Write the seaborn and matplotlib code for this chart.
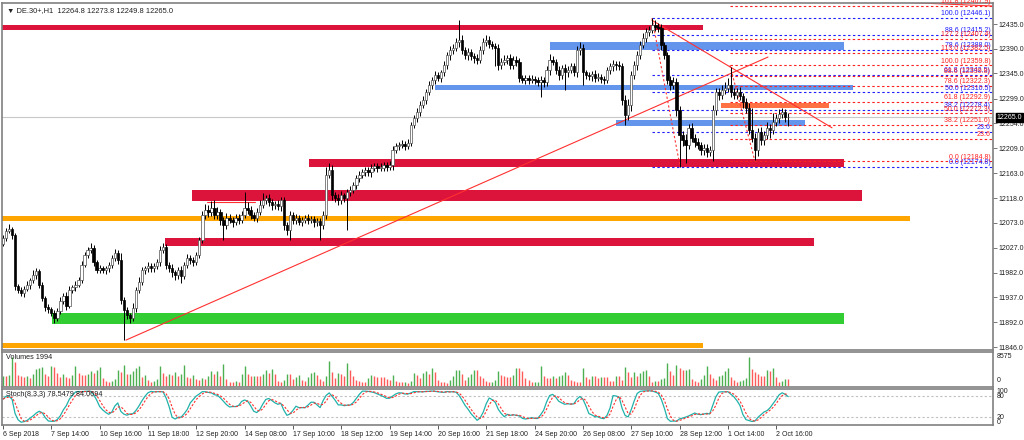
import numpy as np
import pandas as pd
import matplotlib
matplotlib.use("Agg")
import matplotlib.pyplot as plt
import matplotlib.transforms as mtrans
import seaborn as sns

sns.set_theme(style="white")
plt.rcParams["font.family"] = ["Liberation Sans", "DejaVu Sans"]

# ---------------- data ----------------
symbol = "DE.30+,H1"
last_ohlc = [12264.8, 12273.8, 12249.8, 12265.0]
first_open = 12035.0

closes = [
    12045, 12058, 12062, 12050, 11958,
    11950, 11945, 11953, 11959, 11969,
    11978, 11985, 11960, 11935, 11920,
    11915, 11908, 11900, 11912, 11930,
    11940, 11922, 11950, 11955, 11960,
    11969, 11996, 12014, 12023, 12027,
    12001, 11987, 11990, 11987, 11990,
    11996, 12009, 12018, 12005, 11932,
    11914, 11905, 11900, 11918, 11950,
    11965, 11987, 11990, 11994, 11990,
    11994, 12001, 12023, 12029, 11996,
    11990, 11983, 11978, 11987, 11976,
    11996, 12009, 12005, 12001, 12014,
    12041, 12087, 12096, 12092, 12100,
    12087, 12092, 12078, 12069, 12082,
    12078, 12074, 12082, 12078, 12087,
    12100, 12096, 12087, 12082, 12092,
    12105, 12114, 12118, 12110, 12105,
    12107, 12103, 12114, 12069, 12060,
    12087, 12078, 12082, 12074, 12078,
    12082, 12078, 12080, 12074, 12076,
    12069, 12087, 12160, 12169, 12123,
    12118, 12114, 12123, 12118, 12129,
    12133, 12142, 12155, 12160, 12165,
    12169, 12165, 12173, 12176, 12173,
    12173, 12178, 12175, 12178, 12206,
    12213, 12215, 12217, 12213, 12219,
    12251, 12264, 12275, 12288, 12297,
    12311, 12324, 12333, 12342, 12337,
    12347, 12360, 12379, 12388, 12392,
    12402, 12406, 12388, 12379, 12384,
    12377, 12373, 12370, 12388, 12402,
    12406, 12399, 12395, 12392, 12360,
    12366, 12370, 12373, 12360, 12370,
    12366, 12337, 12333, 12337, 12333,
    12335, 12333, 12329, 12333, 12329,
    12351, 12370, 12366, 12351, 12342,
    12355, 12347, 12351, 12358, 12347,
    12388, 12392, 12347, 12342, 12340,
    12344, 12337, 12339, 12335, 12333,
    12351, 12358, 12362, 12360, 12358,
    12297, 12269, 12288, 12342, 12360,
    12379, 12397, 12410, 12421, 12424,
    12433, 12430, 12428, 12397, 12379,
    12333, 12324, 12330, 12278, 12233,
    12224, 12215, 12246, 12228, 12220,
    12215, 12206, 12209, 12202, 12206,
    12278, 12311, 12306, 12315, 12319,
    12324, 12311, 12306, 12311, 12304,
    12293, 12282, 12242, 12228, 12206,
    12238, 12224, 12233, 12246, 12242,
    12257, 12264, 12271, 12275, 12264.8,
    12265.0,
]

upper_wick = [
    6, 5, 8, 4, 5, 4, 6, 5, 7, 4,
    8, 6, 4, 5, 4, 5, 4, 6, 5, 7,
    5, 6, 7, 4, 6, 5, 7, 6, 5, 9,
    6, 4, 6, 5, 4, 6, 5, 7, 6, 12,
    5, 6, 4, 8, 6, 9, 6, 5, 7, 5,
    6, 5, 8, 7, 6, 5, 7, 4, 6, 8,
    6, 7, 5, 6, 5, 6, 8, 12, 10, 12,
    15, 10, 6, 5, 8, 6, 5, 7, 6, 8,
    29, 10, 8, 6, 7, 9, 14, 6, 8, 7,
    6, 7, 5, 6, 5, 8, 6, 7, 5, 6,
    5, 7, 6, 5, 6, 5, 8, 14, 13, 9,
    6, 7, 8, 5, 6, 7, 6, 5, 7, 6,
    6, 5, 7, 6, 5, 8, 6, 5, 7, 6,
    6, 5, 7, 5, 6, 5, 6, 8, 6, 7,
    6, 8, 6, 7, 6, 5, 7, 6, 8, 6,
    8, 36, 9, 6, 7, 6, 5, 7, 8, 8,
    10, 7, 6, 5, 6, 7, 8, 6, 7, 6,
    6, 7, 5, 6, 5, 7, 6, 5, 7, 6,
    8, 10, 7, 6, 7, 6, 8, 7, 6, 7,
    8, 10, 6, 5, 6, 5, 7, 6, 5, 6,
    6, 7, 8, 6, 7, 6, 8, 10, 7, 8,
    7, 8, 9, 7, 8, 13, 9, 7, 8, 6,
    6, 7, 8, 6, 7, 8, 10, 7, 9, 6,
    7, 6, 8, 7, 6, 10, 8, 7, 9, 10,
    12, 32, 8, 7, 9, 6, 8, 10, 40, 8,
    7, 9, 8, 10, 7, 16, 8, 9, 7, 6,
    8.8,
]

lower_wick = [
    5, 6, 4, 7, 8, 6, 5, 7, 4, 6,
    5, 7, 6, 5, 8, 6, 5, 10, 6, 5,
    6, 8, 5, 6, 7, 5, 6, 4, 6, 5,
    7, 6, 5, 6, 8, 6, 5, 6, 7, 8,
    55, 8, 10, 6, 7, 6, 5, 8, 6, 7,
    6, 5, 7, 6, 8, 6, 9, 10, 7, 12,
    6, 5, 7, 6, 5, 6, 5, 7, 8, 6,
    7, 8, 10, 28, 7, 6, 8, 6, 7, 6,
    6, 7, 8, 6, 7, 5, 6, 7, 6, 8,
    7, 6, 8, 9, 10, 19, 8, 7, 6, 7,
    6, 7, 6, 8, 7, 28, 8, 7, 6, 8,
    7, 8, 6, 7, 58, 7, 6, 8, 7, 6,
    6, 7, 8, 6, 7, 5, 6, 7, 6, 8,
    6, 7, 5, 8, 6, 7, 6, 8, 7, 6,
    7, 6, 8, 7, 6, 8, 7, 6, 9, 7,
    6, 9, 8, 7, 10, 8, 9, 7, 6, 8,
    7, 8, 6, 33, 8, 7, 6, 8, 7, 6,
    8, 7, 6, 8, 7, 6, 8, 7, 27, 8,
    7, 8, 6, 7, 8, 7, 32, 8, 6, 7,
    8, 9, 23, 7, 6, 8, 7, 6, 8, 7,
    6, 7, 8, 9, 7, 10, 18, 8, 12, 7,
    8, 7, 6, 8, 7, 6, 8, 7, 9, 8,
    8, 9, 7, 10, 58, 12, 33, 8, 7, 9,
    8, 9, 10, 9, 8, 20, 8, 9, 7, 8,
    7, 9, 8, 7, 8, 10, 9, 8, 7, 19,
    12, 10, 9, 8, 14, 7, 8, 9, 7, 8,
    15,
]

volumes = [
    3000, 3000, 3100, 8500, 7000, 3200, 2800, 2500, 3000, 2300,
    3400, 4900, 5200, 5600, 3500, 2800, 5700, 5600, 3900, 2600,
    3500, 2500, 2200, 3300, 5800, 3900, 3300, 3100, 3500, 4300,
    3900, 4600, 5600, 2200, 1500, 1200, 1400, 2100, 4700, 4000,
    6000, 3400, 3600, 4300, 5300, 5800, 2700, 3200, 1600, 1200,
    1500, 2000, 5700, 3900, 2900, 3600, 3300, 4200, 2900, 3400,
    6200, 2700, 2200, 3300, 2000, 1800, 2300, 1900, 3000, 4300,
    3600, 4500, 3000, 6300, 2000, 1300, 1200, 1500, 1300, 3400,
    5800, 3400, 2800, 3000, 3000, 2800, 3400, 4800, 3700, 5000,
    3500, 1500, 1200, 1800, 3500, 3400, 2000, 2600, 3200, 1700,
    1500, 2500, 3900, 4100, 3200, 2000, 1400, 2800, 7300, 4000,
    2200, 3900, 3400, 2800, 6700, 4700, 2800, 1600, 1400, 1300,
    1200, 2200, 3300, 3000, 2600, 2600, 2600, 2000, 1600, 3200,
    1400, 1200, 1100, 1200, 1000, 1500, 3800, 3200, 2400, 3700,
    4300, 3600, 5100, 4000, 1700, 1300, 1200, 1000, 1600, 3000,
    4600, 4700, 3600, 1700, 2700, 3400, 4600, 4600, 2800, 2400,
    1500, 1200, 1300, 1600, 4300, 3200, 3000, 2600, 2500, 3100,
    5300, 5300, 4300, 2200, 1600, 1100, 1200, 1300, 5800, 2800,
    2200, 2200, 3000, 2300, 2800, 3200, 4000, 3200, 1800, 1500,
    1300, 1300, 5300, 2600, 2000, 2800, 2800, 2400, 2700, 2700,
    2700, 1500, 1400, 3000, 3000, 1700, 5500, 4000, 2600, 4000,
    3000, 3800, 4400, 4800, 3000, 1300, 1500, 1400, 2000, 2400,
    6700, 4400, 3200, 6000, 5200, 4600, 4700, 5000, 2000, 1500,
    1300, 2000, 3200, 5800, 3400, 2300, 1700, 3000, 3100, 4300,
    5300, 2600, 1700, 1300, 1400, 1700, 2400, 8575, 5000, 4200,
    3400, 2900, 2900, 4800, 4300, 5100, 2500, 1200, 1500, 2000,
    1994,
]

tick_bars = [0, 16, 32, 48, 64, 80, 96, 112, 128, 144, 160, 176, 192, 208, 224, 240, 256]
tick_labels = ["6 Sep 2018", "7 Sep 14:00", "10 Sep 16:00", "11 Sep 18:00", "12 Sep 20:00",
               "14 Sep 08:00", "17 Sep 10:00", "18 Sep 12:00", "19 Sep 14:00", "20 Sep 16:00",
               "21 Sep 18:00", "24 Sep 20:00", "26 Sep 08:00", "27 Sep 10:00", "28 Sep 12:00",
               "1 Oct 14:00", "2 Oct 16:00"]

price_ticks = [12435, 12390, 12345, 12299, 12254, 12209, 12163, 12118,
               12073, 12027, 11982, 11937, 11892, 11846]

# support / resistance zones (price range, bar range)
zone_lo = [12424, 12388, 12315, 12283, 12250, 12174, 12113, 12077, 12030, 11888, 11845]
zone_hi = [12433, 12402, 12324, 12291, 12260, 12190, 12133, 12085, 12046, 11908, 11854]
zone_start = [-1, 181, 143, 237.7, 202.9, 101.3, 62.5, -1, 53.6, 16.1, -1]
zone_end = [231.8, 278.5, 281.5, 273.5, 265.6, 278.5, 284.4, 300.3, 268.5, 278.5, 231.8]
zone_kind = ["red", "blue", "blue", "coral", "blue", "red", "red", "orange", "red", "green", "orange"]

blue_fib_hi, blue_fib_lo, blue_fib_start = 12446.1, 12174.8, 214.9
blue_fib_levels = [100.0, 88.6, 78.6, 61.8, 50.0, 38.2, 23.6, 0.0]
red_fib_hi, red_fib_lo, red_fib_start = 12359.8, 12184.8, 240.7
red_fib_levels = [161.8, 127.2, 113.0, 100.0, 88.6, 78.6, 61.8, 50.0, 38.2, 23.6, 0.0]

trend_bars = [[40.7, 253.3], [214.9, 274.5], [297.0, 327.8], [67.5, 83.5]]
trend_prices = [[11859, 12375], [12442, 12246], [12475, 12468], [12111, 12111]]
fib_base_bars = [[214.9, 224.2], [240.7, 249.0]]
fib_base_prices = [[12446.1, 12174.8], [12359.8, 12184.8]]

current_price = 12265.0
stoch_title = "Stoch(8,3,3) 78.5479 84.0694"
volume_title = "Volumes 1994"

# ---------------- frame ----------------
n = len(closes)
c = np.array(closes, dtype=float)
o = np.concatenate([[first_open], c[:-1]])
hi = np.maximum(o, c) + np.array(upper_wick, dtype=float)
lo = np.minimum(o, c) - np.array(lower_wick, dtype=float)
df = pd.DataFrame({"bar": np.arange(n), "open": o, "high": hi, "low": lo,
                   "close": c, "volume": volumes})

low8 = df["low"].rolling(8, min_periods=1).min()
high8 = df["high"].rolling(8, min_periods=1).max()
num = (df["close"] - low8).rolling(3, min_periods=1).sum()
den = (high8 - low8).rolling(3, min_periods=1).sum()
df["k"] = 100 * num / den
df["d"] = df["k"].rolling(3, min_periods=1).mean()

FS = 5.0
W, H = 1024, 440
fig = plt.figure(figsize=(W / 100, H / 100), dpi=100)
fig.patch.set_facecolor("white")
L, R = 2 / W, 993 / W
ax = fig.add_axes([L, 1 - 350 / H, R - L, 347 / H])
axv = fig.add_axes([L, 1 - 387 / H, R - L, 35 / H], sharex=ax)
axs = fig.add_axes([L, 1 - 425 / H, R - L, 36 / H], sharex=ax)

XMIN, XMAX = -0.33, 327.8
ax.set_xlim(XMIN, XMAX)
ax.set_ylim(11841, 12473.5)

colors = {"red": "#DC143C", "blue": "#6495ED", "coral": "#FF7043",
          "orange": "#FFA500", "green": "#32CD32"}
for z0, z1, s, e, k in zip(zone_lo, zone_hi, zone_start, zone_end, zone_kind):
    ax.fill_between([s, e], z0, z1, color=colors[k], lw=0, zorder=1)

ax.axhline(current_price, color="#C8C8C8", lw=0.8, zorder=1.5)

# fibonacci grids
for lvl in blue_fib_levels:
    p = blue_fib_lo + lvl / 100 * (blue_fib_hi - blue_fib_lo)
    ax.hlines(p, blue_fib_start, XMAX, colors="#2020FF", linestyles=(0, (2.2, 2.2)), lw=0.8, zorder=2)
    lab = f"{lvl:.1f}" if lvl == 23.6 else f"{lvl:.1f} ({p:.1f})"
    ax.text(326.9, p + 1.5, lab, color="#2020FF", fontsize=FS, ha="right", va="bottom", zorder=6)
for lvl in red_fib_levels:
    p = red_fib_lo + lvl / 100 * (red_fib_hi - red_fib_lo)
    ax.hlines(p, red_fib_start, XMAX, colors="#FF2020", linestyles=(0, (2.2, 2.2)), lw=0.8, zorder=2)
    lab = f"{lvl:.1f}" if lvl == 23.6 else f"{lvl:.1f} ({p:.1f})"
    ax.text(326.9, p + 1.5, lab, color="#FF2020", fontsize=FS, ha="right", va="bottom", zorder=6)

for bx, by in zip(trend_bars, trend_prices):
    ax.plot(bx, by, color="#FF3030", lw=0.8, zorder=2.5)
for bx, by in zip(fib_base_bars, fib_base_prices):
    ax.plot(bx, by, color="#FF3030", lw=0.8, ls=(0, (2, 2)), zorder=2.5)

# candles
ax.vlines(df["bar"], df["low"], df["high"], color="black", lw=0.7, zorder=3)
body_lo = np.minimum(o, c)
body_h = np.maximum(np.abs(c - o), 0.9)
bull = c >= o
ax.bar(df["bar"][bull], body_h[bull], bottom=body_lo[bull], width=0.78,
       color="white", edgecolor="#505050", lw=0.5, zorder=4)
ax.bar(df["bar"][~bull], body_h[~bull], bottom=body_lo[~bull], width=0.78,
       color="black", edgecolor="black", lw=0.5, zorder=4)

ax.text(5 / 991, 1 - 4 / 347, "\u25bc " + symbol + "  " + " ".join(f"{v:.1f}" for v in last_ohlc),
        transform=ax.transAxes, fontsize=5.4, ha="left", va="top", color="#202020")

# right price axis
ax.yaxis.tick_right()
ax.set_yticks(price_ticks)
ax.set_yticklabels([f"{p:.1f}" for p in price_ticks])
ax.tick_params(axis="y", right=True, left=False, length=3, width=0.6, color="#606060",
               labelsize=FS, labelcolor="#202020", pad=1.2)
ax.tick_params(axis="x", bottom=False, labelbottom=False)
tr = mtrans.blended_transform_factory(ax.transAxes, ax.transData)
ax.text(1.004, current_price, f"{current_price:.1f}", transform=tr, fontsize=FS, color="white",
        ha="left", va="center", zorder=10,
        bbox=dict(boxstyle="square,pad=0.12", fc="black", ec="black"))

# volumes
vol = np.array(volumes, dtype=float)
up = np.concatenate([[True], vol[1:] > vol[:-1]])
axv.vlines(df["bar"][up], 0, vol[up], colors="#4CAF50", lw=1.0)
axv.vlines(df["bar"][~up], 0, vol[~up], colors="#FF5A5A", lw=1.0)
axv.set_ylim(-300, 9900)
axv.set_yticks([])
axv.tick_params(axis="x", bottom=False, labelbottom=False)
axv.text(4 / 991, 0.83, volume_title, transform=axv.transAxes, fontsize=5.2, ha="left", va="center", color="#202020")
axv.text(1.004, 0.86, "8575", transform=axv.transAxes, fontsize=FS, ha="left", va="center", color="#202020")
axv.text(1.004, 0.2, "0", transform=axv.transAxes, fontsize=FS, ha="left", va="center", color="#202020")

# stochastic
axs.axhline(80, color="#C0C0C0", lw=0.8, ls=(0, (2, 2)))
axs.axhline(20, color="#C0C0C0", lw=0.8, ls=(0, (2, 2)))
sns.lineplot(x=df["bar"], y=df["k"], ax=axs, color="#20B2AA", lw=0.9)
sns.lineplot(x=df["bar"], y=df["d"], ax=axs, color="#FF3030", lw=0.8, ls=(0, (2, 1.5)))
axs.set_ylim(-3, 100.5)
axs.set_yticks([])
axs.set_ylabel("")
axs.set_xlabel("")
axs.text(4 / 991, 0.85, stoch_title, transform=axs.transAxes, fontsize=5.2, ha="left", va="center", color="#202020")
trs = mtrans.blended_transform_factory(axs.transAxes, axs.transData)
for val, txt, dy in [(100, "100", -8), (80, "80", 0), (20, "20", 0), (0, "0", 5)]:
    axs.text(1.004, val + dy, txt, transform=trs, fontsize=FS, ha="left", va="center", color="#202020")
axs.set_xticks(tick_bars)
axs.set_xticklabels(tick_labels, ha="left")
axs.tick_params(axis="x", bottom=True, length=3, width=0.6, color="#404040",
                labelsize=FS, labelcolor="#202020", pad=1.5)
axs.set_xlim(XMIN, XMAX)

for a in (ax, axv, axs):
    a.set_facecolor("white")
    a.grid(False)
    for sp in a.spines.values():
        sp.set_color("#808080")
        sp.set_linewidth(1.2)

fig.savefig("out.png", dpi=100)
